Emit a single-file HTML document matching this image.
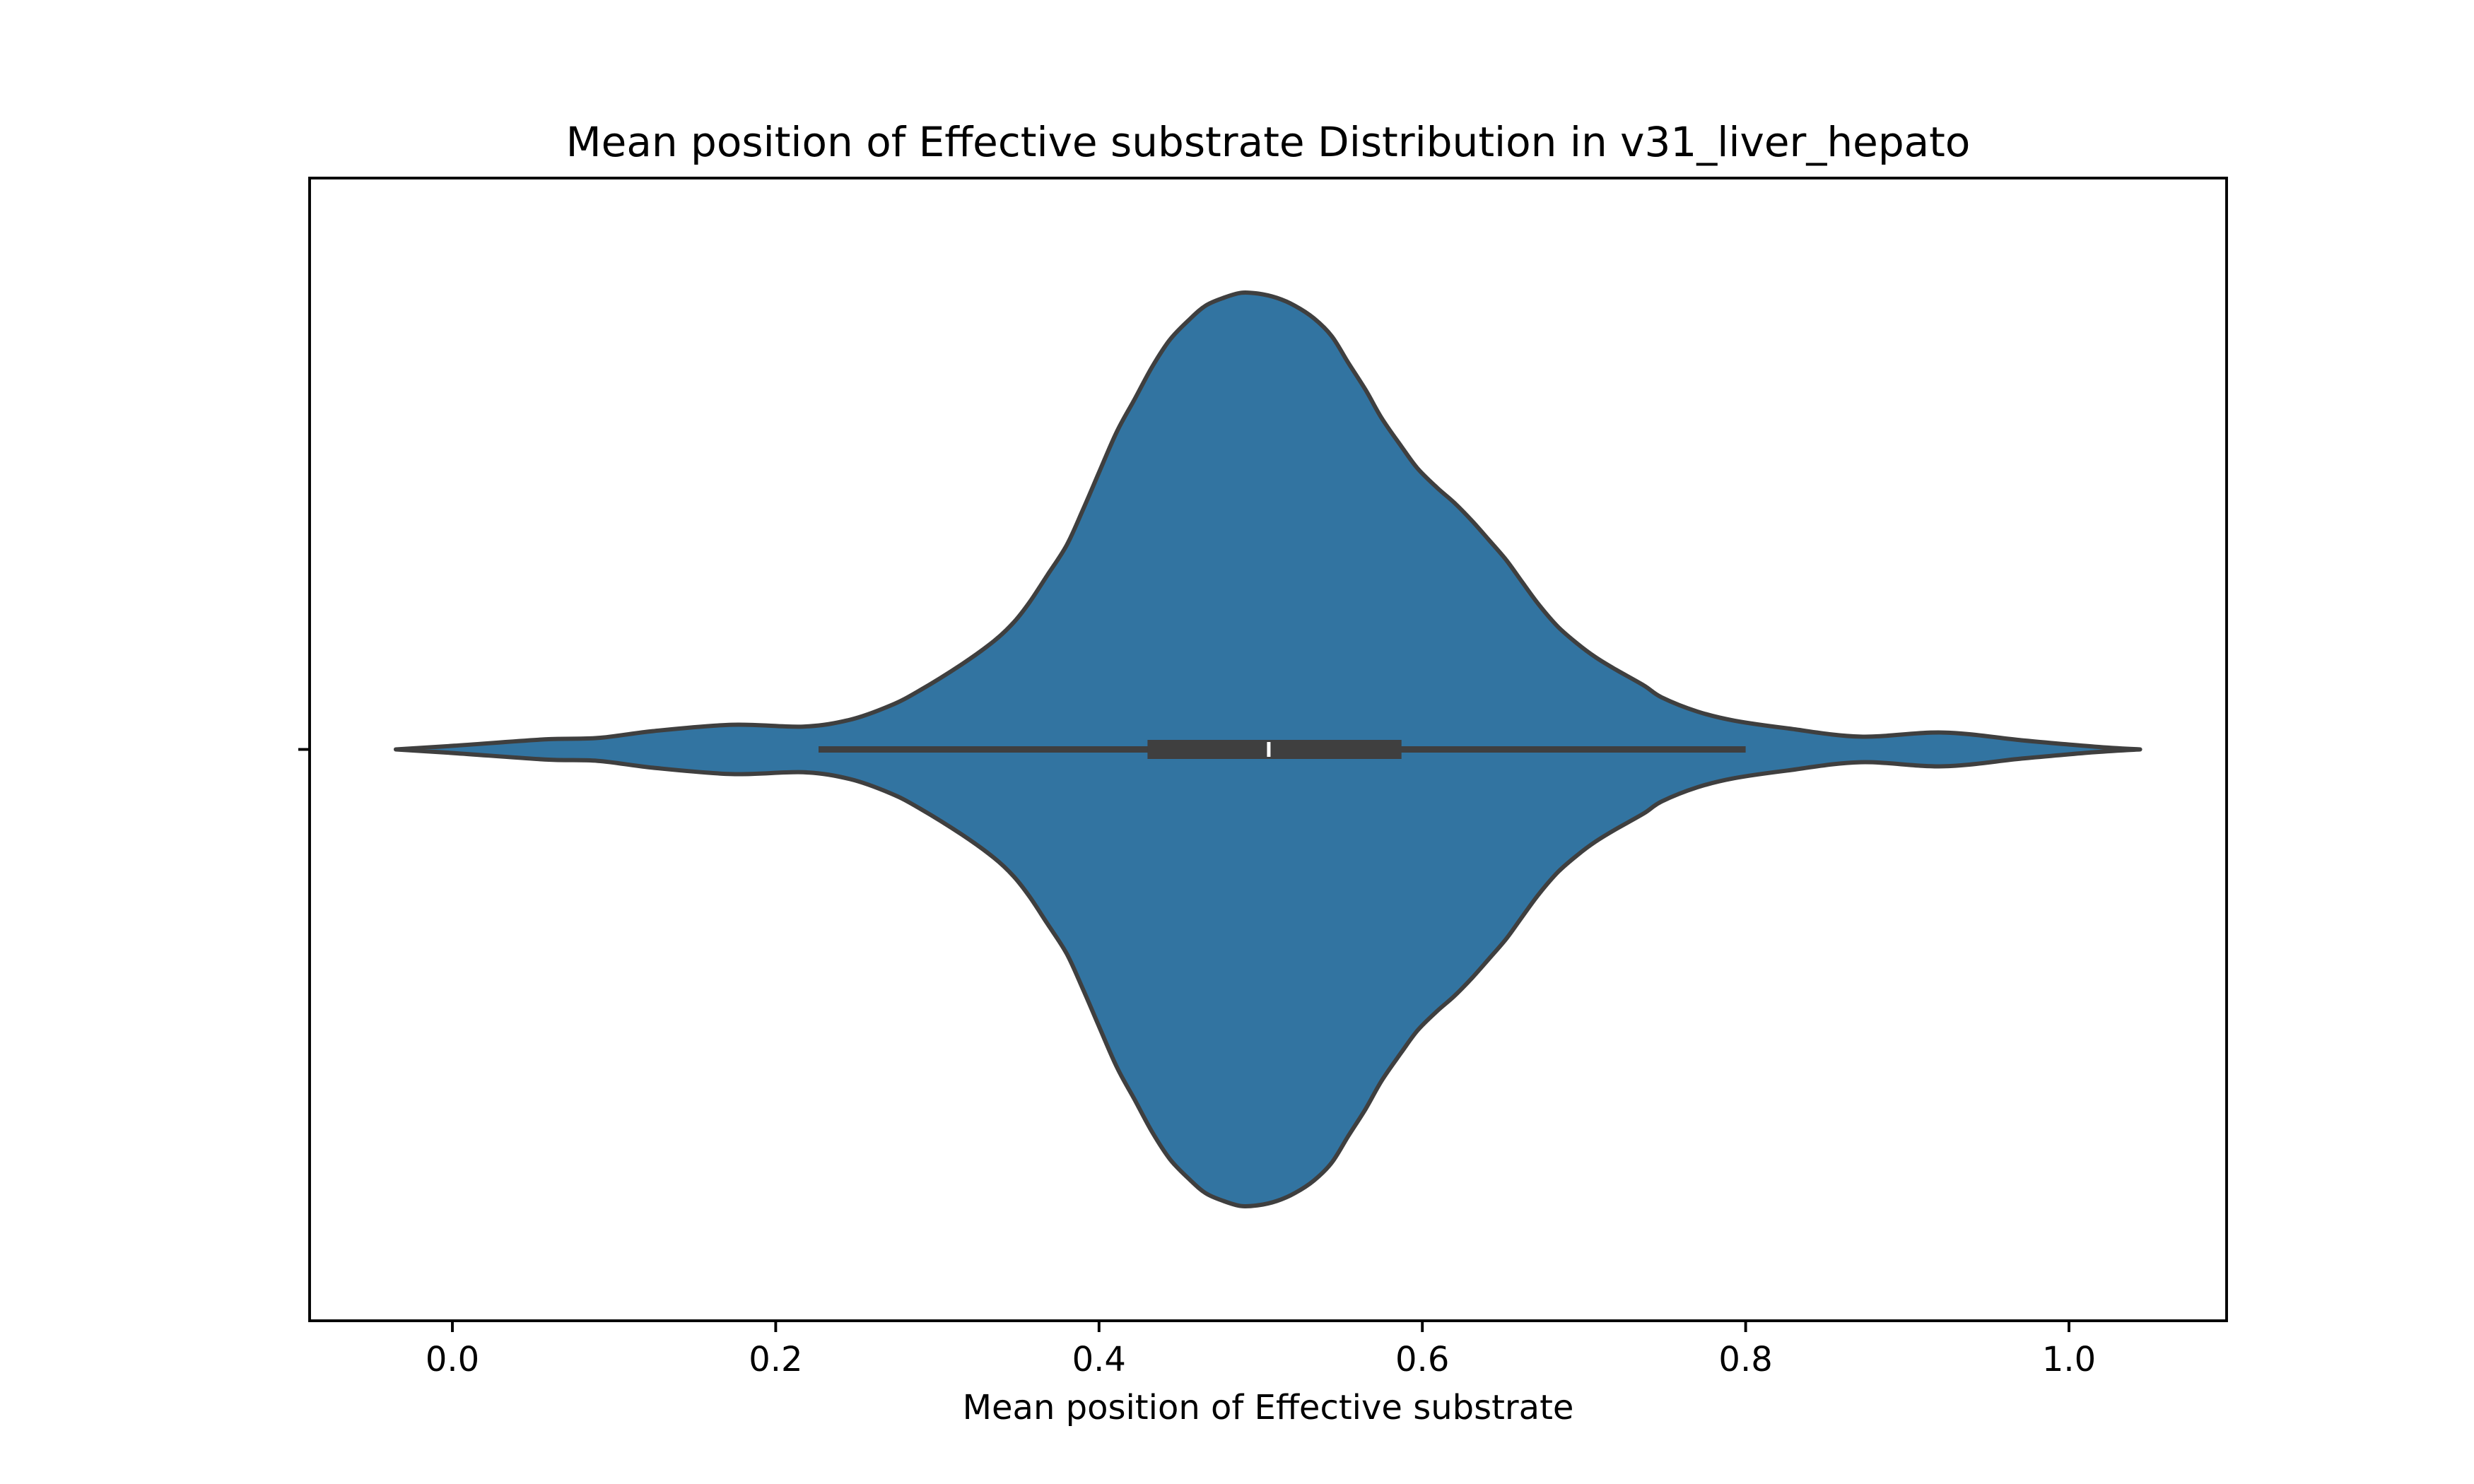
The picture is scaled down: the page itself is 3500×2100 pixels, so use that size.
<!DOCTYPE html>
<html>
<head>
<meta charset="utf-8">
<style>
  html, body { margin: 0; padding: 0; background: #ffffff; }
  svg { display: block; }
  text { font-family: "DejaVu Sans", "Liberation Sans", sans-serif; fill: #000; }
</style>
</head>
<body>
<svg id="chart" width="3500" height="2100" viewBox="0 0 3500 2100" xmlns="http://www.w3.org/2000/svg">
  <rect x="0" y="0" width="3500" height="2100" fill="#ffffff"/>
  <g id="plot"></g>
  <text x="1794" y="221" font-size="58" text-anchor="middle">Mean position of Effective substrate Distribution in v31_liver_hepato</text>
  <text x="1794" y="2008" font-size="48" text-anchor="middle">Mean position of Effective substrate</text>
</svg>
<script>
// ---- data ----
const gridValues = [-0.035, 0.001, 0.057, 0.090, 0.124, 0.173, 0.217, 0.246, 0.271, 0.289, 0.315, 0.335, 0.347, 0.357, 0.368, 0.380, 0.390, 0.400, 0.411, 0.422, 0.433, 0.444, 0.456, 0.466, 0.477, 0.488, 0.499, 0.510, 0.521, 0.533, 0.544, 0.554, 0.565, 0.575, 0.587, 0.597, 0.609, 0.620, 0.631, 0.641, 0.652, 0.662, 0.672, 0.684, 0.696, 0.707, 0.719, 0.737, 0.748, 0.770, 0.793, 0.826, 0.871, 0.922, 0.971, 1.016, 1.044];
const densityValues = [0, 0.008, 0.022, 0.025, 0.040, 0.054, 0.050, 0.065, 0.096, 0.129, 0.186, 0.237, 0.277, 0.322, 0.381, 0.447, 0.524, 0.606, 0.695, 0.766, 0.838, 0.897, 0.941, 0.971, 0.988, 0.999, 0.997, 0.988, 0.971, 0.943, 0.904, 0.847, 0.786, 0.724, 0.663, 0.615, 0.573, 0.539, 0.499, 0.459, 0.414, 0.365, 0.317, 0.268, 0.231, 0.202, 0.176, 0.140, 0.114, 0.083, 0.063, 0.046, 0.028, 0.037, 0.020, 0.006, 0];
const boxStats = [0.2265, 0.430, 0.505, 0.5871, 0.800]; // whisker low, q1, median, q3, whisker high
const xTickValues = [0.0, 0.2, 0.4, 0.6, 0.8, 1.0];
const xTickLabels = ["0.0", "0.2", "0.4", "0.6", "0.8", "1.0"];

// ---- axes ----
const axL = 438, axR = 3150, axT = 252, axB = 1869;
const xOrigin = 640, xPerUnit = 2287;
function xScale(v) { return xOrigin + v * xPerUnit; }
const yMin = -0.5, yMax = 0.5;
function yScale(v) { return axT + (v - yMin) / (yMax - yMin) * (axB - axT); }
const cy = yScale(0);
const halfWidth = yScale(0.4) - yScale(0);

const NS = "http://www.w3.org/2000/svg";
const plot = document.getElementById('plot');
function mk(tag, attrs) {
  const el = document.createElementNS(NS, tag);
  for (const k in attrs) el.setAttribute(k, attrs[k]);
  return el;
}

// smooth path through points (Catmull-Rom -> Bezier)
function smooth(pts, start) {
  let s = start ? "M" + pts[0][0].toFixed(1) + "," + pts[0][1].toFixed(1) : "L" + pts[0][0].toFixed(1) + "," + pts[0][1].toFixed(1);
  for (let i = 0; i < pts.length - 1; i++) {
    const p0 = pts[Math.max(0, i - 1)], p1 = pts[i], p2 = pts[i + 1], p3 = pts[Math.min(pts.length - 1, i + 2)];
    const c1x = p1[0] + (p2[0] - p0[0]) / 6, c1y = p1[1] + (p2[1] - p0[1]) / 6;
    const c2x = p2[0] - (p3[0] - p1[0]) / 6, c2y = p2[1] - (p3[1] - p1[1]) / 6;
    s += "C" + c1x.toFixed(1) + "," + c1y.toFixed(1) + " " + c2x.toFixed(1) + "," + c2y.toFixed(1) + " " + p2[0].toFixed(1) + "," + p2[1].toFixed(1);
  }
  return s;
}
const upper = [], lower = [];
for (let i = 0; i < gridValues.length; i++) {
  upper.push([xScale(gridValues[i]), cy - densityValues[i] * halfWidth]);
}
for (let i = gridValues.length - 1; i >= 0; i--) {
  lower.push([xScale(gridValues[i]), cy + densityValues[i] * halfWidth]);
}
const d = smooth(upper, true) + smooth(lower, false) + "Z";
const violin = mk('path', {d: d, fill: '#3274a1', stroke: '#3f3f3f', 'stroke-width': 6, 'stroke-linejoin': 'round'});


plot.appendChild(violin);

// whisker
const whisker = mk('line', {x1: xScale(boxStats[0]), x2: xScale(boxStats[4]), y1: cy, y2: cy, stroke: '#3f3f3f', 'stroke-width': 9});


plot.appendChild(whisker);

// box
const box = mk('rect', {x: xScale(boxStats[1]), y: cy - 13.5, width: xScale(boxStats[3]) - xScale(boxStats[1]), height: 27, fill: '#3f3f3f'});


plot.appendChild(box);

// median
const med = mk('rect', {x: xScale(boxStats[2]) - 3, y: cy - 11, width: 6, height: 22, fill: '#ffffff', stroke: '#3f3f3f', 'stroke-width': 1});


plot.appendChild(med);

// frame
const frame = mk('rect', {x: axL, y: axT, width: axR - axL, height: axB - axT, fill: 'none', stroke: '#000', 'stroke-width': 3.9});


plot.appendChild(frame);

// y tick
const ytick = mk('line', {x1: axL - 16, x2: axL, y1: cy, y2: cy, stroke: '#000', 'stroke-width': 3.9});


plot.appendChild(ytick);

// x ticks
for (let i = 0; i < xTickValues.length; i++) {
  const x = xScale(xTickValues[i]);
  const t = mk('line', {x1: x, x2: x, y1: axB, y2: axB + 16, stroke: '#000', 'stroke-width': 3.9});
  
  
  plot.appendChild(t);
  const lbl = mk('text', {x: x, y: 1940, 'font-size': 48, 'text-anchor': 'middle'});
  
  
  lbl.textContent = xTickLabels[i];
  plot.appendChild(lbl);
}
</script>
</body>
</html>
